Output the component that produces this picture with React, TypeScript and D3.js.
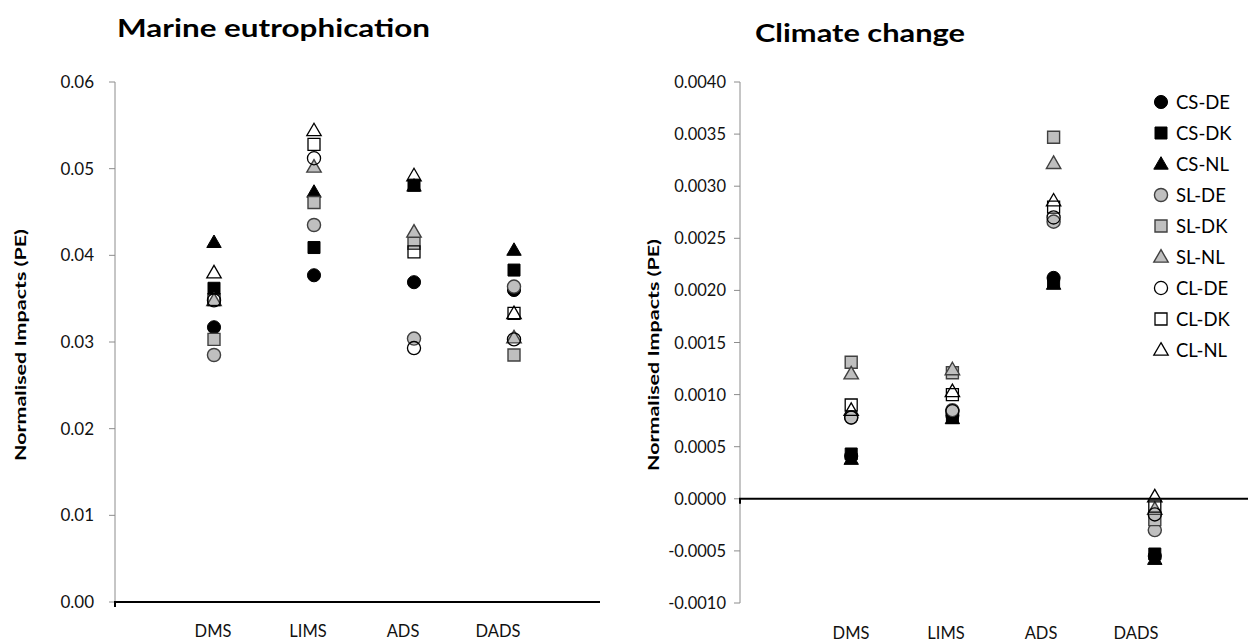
import React from "react";
import * as d3 from "d3";

const categories = ["DMS", "LIMS", "ADS", "DADS"];
const seriesNames = ["CS-DE", "CS-DK", "CS-NL", "SL-DE", "SL-DK", "SL-NL", "CL-DE", "CL-DK", "CL-NL"];
const seriesShapes = ["circle", "square", "triangle", "circle", "square", "triangle", "circle", "square", "triangle"];
const seriesStyles = ["black", "black", "black", "gray", "gray", "gray", "open", "open", "open"];

// Marine eutrophication (PE)
const marineCSDE = [0.0317, 0.0377, 0.0369, 0.036];
const marineCSDK = [0.0362, 0.0409, 0.0481, 0.0383];
const marineCSNL = [0.0415, 0.0473, 0.048, 0.0406];
const marineSLDE = [0.0285, 0.0435, 0.0304, 0.0364];
const marineSLDK = [0.0303, 0.0461, 0.0414, 0.0285];
const marineSLNL = [0.0348, 0.0502, 0.0427, 0.0305];
const marineCLDE = [0.0348, 0.0512, 0.0293, 0.0303];
const marineCLDK = [0.0349, 0.0528, 0.0404, 0.0333];
const marineCLNL = [0.038, 0.0544, 0.0492, 0.0333];

// Climate change (PE)
const climateCSDE = [0.00041, 0.0008, 0.00212, -0.00055];
const climateCSDK = [0.00043, 0.00078, 0.00208, -0.00053];
const climateCSNL = [0.00038, 0.00077, 0.00206, -0.00058];
const climateSLDE = [0.00078, 0.00085, 0.00266, -0.0003];
const climateSLDK = [0.00131, 0.00121, 0.00347, -0.0002];
const climateSLNL = [0.0012, 0.00124, 0.00322, -0.0001];
const climateCLDE = [0.00078, 0.00084, 0.0027, -0.00015];
const climateCLDK = [0.0009, 0.001, 0.0028, -0.00007];
const climateCLNL = [0.00085, 0.00103, 0.00286, 0.00002];

const marineTicks = [0, 0.01, 0.02, 0.03, 0.04, 0.05, 0.06];
const climateTicks = [-0.001, -0.0005, 0, 0.0005, 0.001, 0.0015, 0.002, 0.0025, 0.003, 0.0035, 0.004];

const marineSeries = [marineCSDE, marineCSDK, marineCSNL, marineSLDE, marineSLDK, marineSLNL, marineCLDE, marineCLDK, marineCLNL];
const climateSeries = [climateCSDE, climateCSDK, climateCSNL, climateSLDE, climateSLDK, climateSLNL, climateCLDE, climateCLDK, climateCLNL];

const FONT = "Lato, 'Open Sans', sans-serif";

function symbolPath(shape: string) {
  if (shape === "circle") return d3.symbol(d3.symbolCircle, 135)()!;
  if (shape === "square") return d3.symbol(d3.symbolSquare, 144)()!;
  return d3.symbol(d3.symbolTriangle, 90)()!;
}

function markerStyle(style: string) {
  if (style === "black") return { fill: "#000", stroke: "#000", strokeWidth: 1 };
  if (style === "gray") return { fill: "#bfbfbf", stroke: "#404040", strokeWidth: 1.4 };
  return { fill: "none", stroke: "#000", strokeWidth: 1.3 };
}

function Marker({ x, y, i }: { x: number; y: number; i: number }) {
  const s = markerStyle(seriesStyles[i]);
  const shape = seriesShapes[i];
  const dy = shape === "triangle" ? 1 : 0;
  return (
    <path
      d={symbolPath(shape)}
      transform={`translate(${x},${y + dy})`}
      fill={s.fill}
      stroke={s.stroke}
      strokeWidth={s.strokeWidth}
    />
  );
}

export default function App() {
  // Left chart scales
  const yL = d3.scaleLinear().domain([0, 0.06]).range([602, 82]);
  const xL = d3.scaleLinear().domain([0, 5]).range([114, 614]);
  const xLabL = d3.scaleLinear().domain([0, 5]).range([118, 593]);
  const axisXL = 115;

  // Right chart scales
  const yR = d3.scaleLinear().domain([-0.001, 0.004]).range([603, 82]);
  const xR = d3.scaleLinear().domain([0, 5]).range([750, 1256]);
  const xLabR = d3.scaleLinear().domain([0, 5]).range([756, 1231]);
  const axisXR = 740;

  const axisGray = "#8c8c8c";

  return (
    <svg
      width={1248}
      height={642}
      style={{ position: "absolute", left: 0, top: 0, display: "block", background: "#fff" }}
      fontFamily={FONT}
    >
      {/* Titles */}
      <text x={117} y={37} fontSize={25} fontWeight="bold" textLength={313} lengthAdjust="spacingAndGlyphs" fill="#000">
        Marine eutrophication
      </text>
      <text x={755} y={42} fontSize={25} fontWeight="bold" textLength={210} lengthAdjust="spacingAndGlyphs" fill="#000">
        Climate change
      </text>

      {/* Left chart */}
      <line x1={axisXL} x2={axisXL} y1={yL(0.06)} y2={yL(0)} stroke={axisGray} strokeWidth={1} />
      {marineTicks.map((t) => (
        <g key={"lt" + t}>
          <line x1={axisXL - 6} x2={axisXL} y1={yL(t)} y2={yL(t)} stroke={axisGray} strokeWidth={1} />
          <text x={94} y={yL(t) + 6} fontSize={17} textAnchor="end" fill="#111">
            {d3.format(".2f")(t)}
          </text>
        </g>
      ))}
      <line x1={axisXL - 1} x2={600} y1={yL(0)} y2={yL(0)} stroke="#000" strokeWidth={2} />
      <line x1={axisXL} x2={axisXL} y1={yL(0)} y2={yL(0) + 5} stroke="#000" strokeWidth={2} />
      {categories.map((c, j) => (
        <text key={"lc" + c} x={xLabL(j + 1)} y={637} fontSize={16.5} textAnchor="middle" fill="#111">
          {c}
        </text>
      ))}
      <text
        transform={`translate(26,345) rotate(-90)`}
        fontSize={15}
        fontWeight="bold"
        textAnchor="middle"
        textLength={232}
        lengthAdjust="spacingAndGlyphs"
        fill="#000"
      >
        Normalised Impacts (PE)
      </text>
      {marineSeries.map((vals, i) =>
        vals.map((v, j) => <Marker key={`m${i}-${j}`} x={xL(j + 1)} y={yL(v)} i={i} />)
      )}

      {/* Right chart */}
      <line x1={axisXR} x2={axisXR} y1={yR(0.004)} y2={yR(-0.001)} stroke={axisGray} strokeWidth={1} />
      {climateTicks.map((t) => (
        <g key={"rt" + t}>
          <line x1={axisXR - 6} x2={axisXR} y1={yR(t)} y2={yR(t)} stroke={axisGray} strokeWidth={1} />
          <text x={726} y={yR(t) + 6} fontSize={16.5} textAnchor="end" fill="#111">
            {d3.format(".4f")(t).replace("−", "-")}
          </text>
        </g>
      ))}
      <line x1={axisXR - 1} x2={1248} y1={yR(0)} y2={yR(0)} stroke="#000" strokeWidth={2} />
      <line x1={axisXR} x2={axisXR} y1={yR(0)} y2={yR(0) + 5} stroke="#000" strokeWidth={2} />
      {categories.map((c, j) => (
        <text key={"rc" + c} x={xLabR(j + 1)} y={639} fontSize={16.5} textAnchor="middle" fill="#111">
          {c}
        </text>
      ))}
      <text
        transform={`translate(659,355) rotate(-90)`}
        fontSize={15}
        fontWeight="bold"
        textAnchor="middle"
        textLength={232}
        lengthAdjust="spacingAndGlyphs"
        fill="#000"
      >
        Normalised Impacts (PE)
      </text>
      {climateSeries.map((vals, i) =>
        vals.map((v, j) => <Marker key={`c${i}-${j}`} x={xR(j + 1)} y={yR(v)} i={i} />)
      )}

      {/* Legend */}
      {seriesNames.map((n, i) => (
        <g key={"lg" + n}>
          <Marker x={1161} y={102 + 31 * i} i={i} />
          <text x={1176} y={102 + 31 * i + 6.5} fontSize={18.5} fill="#000">
            {n}
          </text>
        </g>
      ))}
    </svg>
  );
}
